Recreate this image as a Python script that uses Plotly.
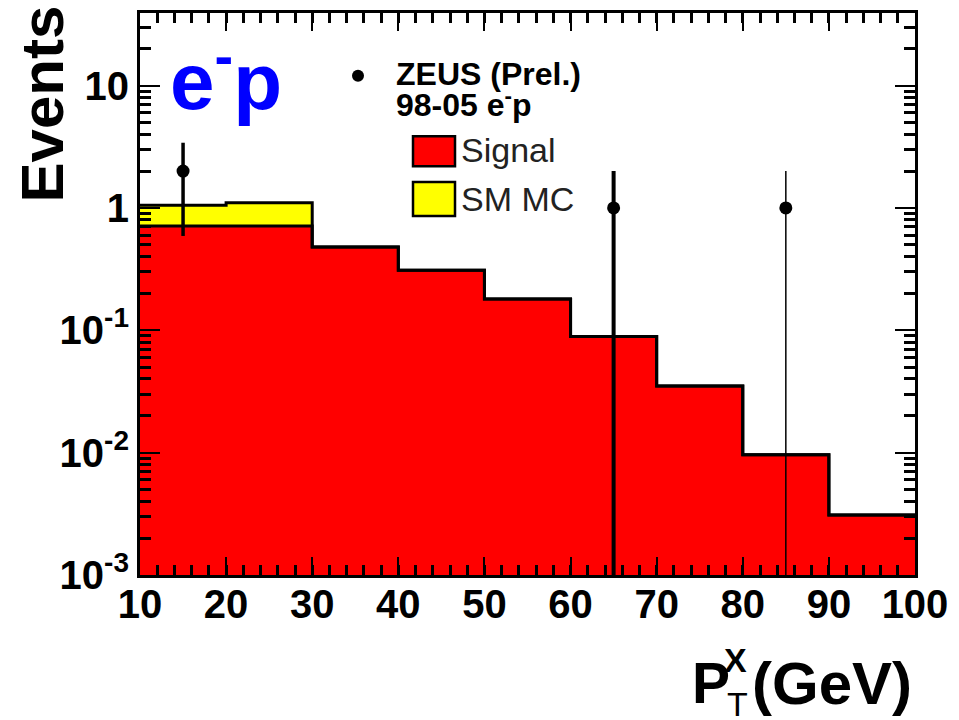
import plotly.graph_objects as go

# Histogram binning in P_T^X (GeV)
bin_edges = [10, 20, 30, 40, 50, 60, 70, 80, 90, 100]
bin_centers = [15, 25, 35, 45, 55, 65, 75, 85, 95]

# Expected events per bin
signal = [0.71, 0.71, 0.48, 0.31, 0.18, 0.089, 0.035, 0.0096, 0.0031]
sm_mc = [0.34, 0.39, 0, 0, 0, 0, 0, 0, 0]

# ZEUS preliminary data points with symmetric errors
data_x = [15, 65, 85]
data_y = [2, 1, 1]
data_err = [1.41, 1.0, 1.0]
err_widths = [3.5, 4, 1.5]

y_tickvals = [1e-3, 1e-2, 1e-1, 1, 10]
y_ticktext = ["10<sup>-3</sup>", "10<sup>-2</sup>", "10<sup>-1</sup>", "1", "10"]
x_tickvals = [10, 20, 30, 40, 50, 60, 70, 80, 90, 100]

FONT = "Liberation Sans, Arial, Helvetica, sans-serif"

# plot area in pixels
L, R, T, B = 140, 915, 10, 575
W, H = 959, 720


def px(xp):
    return (xp - L) / (R - L)


def py(yp):
    return (B - yp) / (B - T)


total = [s + m for s, m in zip(signal, sm_mc)]

fig = go.Figure()

fig.add_trace(go.Bar(x=bin_centers, y=signal, width=10,
                     marker=dict(color="#ff0000", line=dict(width=0)),
                     name="Signal", showlegend=False))
fig.add_trace(go.Bar(x=bin_centers, y=sm_mc, width=10,
                     marker=dict(color="#ffff00", line=dict(width=0)),
                     name="SM MC", showlegend=False))

# black step outlines of the stacked histogram
for vals in (signal, total):
    fig.add_trace(go.Scatter(x=bin_edges, y=list(vals) + [vals[-1]],
                             mode="lines", line=dict(shape="hv", color="black", width=3),
                             showlegend=False, hoverinfo="skip"))

for xv, yv, ev, wv in zip(data_x, data_y, data_err, err_widths):
    fig.add_trace(go.Scatter(x=[xv], y=[yv], mode="markers",
                             marker=dict(color="black", size=13),
                             error_y=dict(type="data", array=[ev], visible=True,
                                          thickness=wv, width=0, color="black"),
                             showlegend=False))

minor_y = [m * 10 ** e for e in range(-3, 2) for m in range(2, 10)]

fig.update_layout(
    width=W, height=H,
    margin=dict(l=L, r=W - R, t=T, b=H - B),
    paper_bgcolor="white", plot_bgcolor="white",
    barmode="stack", bargap=0,
    showlegend=False,
    xaxis=dict(range=[10, 100], tickmode="array", tickvals=x_tickvals,
               ticks="inside", ticklen=18, tickwidth=2, tickcolor="black",
               minor=dict(dtick=2, tick0=10, ticks="inside", ticklen=10,
                          tickwidth=2.5, tickcolor="black"),
               showline=True, linewidth=3, linecolor="black", mirror="allticks",
               showgrid=False, zeroline=False, ticklabelstandoff=-8,
               tickfont=dict(family=FONT, size=40, color="black", weight="bold")),
    yaxis=dict(type="log", range=[-3, 1.593], tickmode="array",
               tickvals=y_tickvals, ticktext=y_ticktext,
               ticks="inside", ticklen=20, tickwidth=2, tickcolor="black",
               minor=dict(tickmode="array", tickvals=minor_y, ticks="inside",
                          ticklen=11, tickwidth=2.5, tickcolor="black"),
               showline=True, linewidth=3, linecolor="black", mirror="allticks",
               showgrid=False, zeroline=False,
               tickfont=dict(family=FONT, size=40, color="black", weight="bold")),
)

ann = []
# axis titles
ann.append(dict(text="Events", textangle=-90, x=px(43), y=py(102),
                font=dict(family=FONT, size=60, color="black", weight="bold")))
ann.append(dict(text="P", x=px(690), y=py(684), xanchor="left",
                font=dict(family=FONT, size=57, color="black", weight="bold")))
ann.append(dict(text="X", x=px(722), y=py(660), xanchor="left",
                font=dict(family=FONT, size=34, color="black", weight="bold")))
ann.append(dict(text="T", x=px(725), y=py(705), xanchor="left",
                font=dict(family=FONT, size=34, color="black")))
ann.append(dict(text="(GeV)", x=px(750), y=py(684), xanchor="left",
                font=dict(family=FONT, size=60, color="black", weight="bold")))
# beam label
ann.append(dict(text="e<sup>-</sup>p", x=px(168), y=py(72), xanchor="left",
                font=dict(family=FONT, size=80, color="#0000ff", weight="bold")))
# legend texts
ann.append(dict(text="ZEUS (Prel.)", x=px(394), y=py(71), xanchor="left",
                font=dict(family=FONT, size=32, color="black", weight="bold")))
ann.append(dict(text="98-05 e<sup>-</sup>p", x=px(394), y=py(100), xanchor="left",
                font=dict(family=FONT, size=32, color="black", weight="bold")))
ann.append(dict(text="Signal", x=px(459), y=py(148), xanchor="left",
                font=dict(family=FONT, size=34, color="#222222")))
ann.append(dict(text="SM MC", x=px(459), y=py(197), xanchor="left",
                font=dict(family=FONT, size=34, color="#222222")))
for a in ann:
    a.update(xref="paper", yref="paper", showarrow=False)
    a.setdefault("xanchor", "center")
    a.setdefault("yanchor", "middle")
fig.update_layout(annotations=ann)

shapes = [
    dict(type="circle", xref="paper", yref="paper", xsizemode="pixel", ysizemode="pixel",
         xanchor=px(358), yanchor=py(73), x0=-6, x1=6, y0=-6, y1=6,
         fillcolor="black", line=dict(color="black", width=0)),
    dict(type="rect", xref="paper", yref="paper", x0=px(413), x1=px(455),
         y0=py(164), y1=py(134), fillcolor="#ff0000", line=dict(color="black", width=2.5)),
    dict(type="rect", xref="paper", yref="paper", x0=px(413), x1=px(455),
         y0=py(214), y1=py(180), fillcolor="#ffff00", line=dict(color="black", width=2.5)),
]
fig.update_layout(shapes=shapes)

fig.write_html("out.html")
